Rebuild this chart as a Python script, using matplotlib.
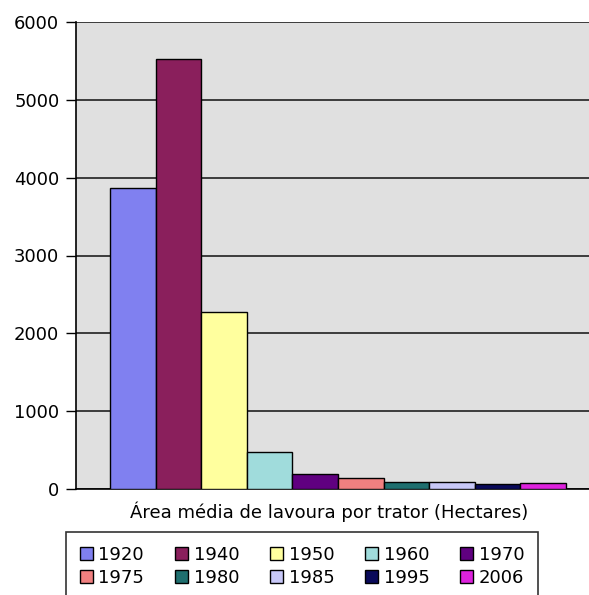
import matplotlib
matplotlib.use('Agg')
import matplotlib.pyplot as plt

anos = ['1920', '1940', '1950', '1960', '1970', '1975', '1980', '1985', '1995', '2006']
area = [3870, 5530, 2270, 470, 195, 135, 93, 95, 59, 72]
cores = ['#8080F0', '#8A1F5C', '#FFFF9E', '#A0DCDC', '#600080',
         '#F08080', '#1F6F6F', '#C8C8F8', '#0A0A5A', '#DD22DD']
yticks = [0, 1000, 2000, 3000, 4000, 5000, 6000]

plt.rcParams['font.family'] = ['DejaVu Sans']
plt.rcParams['font.size'] = 13

fig = plt.figure(figsize=(5.89, 5.95), dpi=100)
ax = fig.add_axes([76 / 589, 1 - 489 / 595, 524 / 589, 467 / 595])
ax.set_facecolor('#E0E0E0')

barras = []
for i, (ano, v, c) in enumerate(zip(anos, area, cores)):
    b = ax.bar(i, v, width=1.0, color=c, edgecolor='black', linewidth=1, label=ano, zorder=3)
    barras.append(b)

ax.set_xlim(-1.25, 10.25)
ax.set_ylim(0, 6000)
ax.set_yticks(yticks)
ax.set_xticks([])
ax.yaxis.grid(True, color='#202020', linewidth=1.2, zorder=0)
ax.tick_params(axis='y', direction='out', length=7, width=1, pad=5)
for s in ['top', 'right']:
    ax.spines[s].set_visible(False)
ax.spines['left'].set_linewidth(1.2)
ax.spines['bottom'].set_linewidth(1.2)

fig.text(329 / 589, 1 - 512 / 595, 'Área média de lavoura por trator (Hectares)',
         ha='center', va='center', fontsize=13)

# legenda preenchida por linha (5 colunas)
ordem = [0, 5, 1, 6, 2, 7, 3, 8, 4, 9]
leg = fig.legend(handles=[barras[k] for k in ordem], labels=[anos[k] for k in ordem],
                 ncol=5, loc='upper left',
                 bbox_to_anchor=(66 / 589, 1 - 532 / 595), frameon=True, fancybox=False,
                 edgecolor='black', handlelength=0.75, handleheight=0.75, handletextpad=0.3,
                 columnspacing=1.68, labelspacing=0.3, borderpad=0.75, borderaxespad=0,
                 fontsize=13)
leg.get_frame().set_linewidth(1.2)

fig.savefig('out.png', dpi=100)
